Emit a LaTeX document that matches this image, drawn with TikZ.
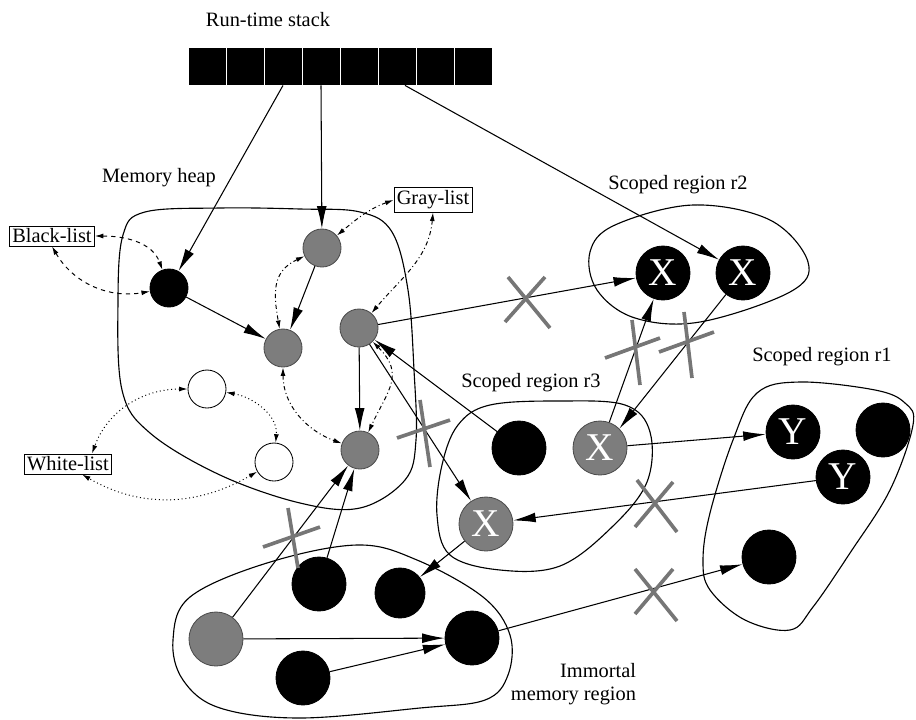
\documentclass[tikz,border=0pt]{standalone}
\usepackage{fontspec}
\setmainfont{Liberation Serif}
\usetikzlibrary{arrows.meta}
\definecolor{objgray}{RGB}{125,125,125}
\definecolor{cutgray}{RGB}{118,118,118}
\tikzstyle{every node}=[font=\fontsize{14.5}{16}\selectfont]
\tikzstyle{cell}=[draw=white,line width=0.6pt,fill=black,minimum width=0.95cm,minimum height=0.95cm,inner sep=0pt]
\tikzstyle{obj}=[circle,draw=black,line width=0.6pt,fill=black,inner sep=0pt,minimum size=0.95cm]
\tikzstyle{big}=[minimum size=1.35cm]
\tikzstyle{grayobj}=[fill=objgray,draw=black!70]
\tikzstyle{whiteobj}=[fill=white]
\tikzstyle{letter}=[text=white,font=\fontsize{28}{28}\selectfont]
\tikzstyle{listbox}=[draw=black,line width=0.6pt,inner sep=2pt]
\tikzstyle{region}=[draw=black,line width=0.8pt]
\tikzstyle{ref}=[line width=0.75pt,-{Latex[length=16pt,width=7pt]}]
\tikzstyle{listref}=[line width=0.7pt,{Latex[length=6pt,width=3.5pt]}-{Latex[length=6pt,width=3.5pt]}]
\tikzstyle{blackref}=[listref,dashed]
\tikzstyle{grayref}=[listref,dash dot]
\tikzstyle{whiteref}=[listref,dotted]
\tikzstyle{cut}=[draw=cutgray,line width=2.6pt]

\begin{document}
\begin{tikzpicture}[x=0.025cm,y=-0.025cm]
  \useasboundingbox (0,0) rectangle (916,719);

  \node (stacklabel) at (268,20) {Run-time stack};
  \foreach \i in {1,...,8}
    \node[cell] (s\i) at ({169+38*\i},66) {};

  \draw[region] plot[smooth cycle,tension=0.6] coordinates {(118,300) (123,235) (145,212)
    (220,208) (300,209) (360,212) (392,232) (408,290) (414,370) (416,440) (405,480)
    (360,508) (300,503) (220,475) (150,433) (122,390)};
  \draw[region] plot[smooth cycle,tension=0.6] coordinates {(590,252) (615,225) (693,205)
    (770,220) (808,262) (790,292) (700,322) (635,318) (597,290)};
  \draw[region] plot[smooth cycle,tension=0.6] coordinates {(458,425) (490,405) (560,401)
    (625,405) (650,432) (647,482) (612,527) (560,566) (500,570) (450,555) (437,515) (442,465)};
  \draw[region] plot[smooth cycle,tension=0.6] coordinates {(757,393) (800,382) (875,390)
    (905,403) (913,425) (890,490) (850,553) (813,607) (790,630) (745,620) (710,590)
    (703,560) (710,513) (733,440)};
  \draw[region] plot[smooth cycle,tension=0.6] coordinates {(190,597) (267,563) (357,545)
    (417,560) (483,597) (510,635) (508,675) (485,700) (420,708) (300,718) (220,708)
    (183,680) (173,640)};

  \node (heaplabel) at (159,178) {Memory heap};
  \node (r2label) at (678,185) {Scoped region r2};
  \node (r3label) at (531,383) {Scoped region r3};
  \node (r1label) at (822,357) {Scoped region r1};
  \node[align=right,anchor=east] (immlabel) at (641,684) {Immortal\\memory region};

  \node[listbox] (blacklist) at (52,236) {Black-list};
  \node[listbox] (graylist) at (433,200) {Gray-list};
  \node[listbox] (whitelist) at (68,464) {White-list};

  \node[obj] (b1) at (169,288) {};
  \node[obj,grayobj] (g1) at (322,248) {};
  \node[obj,grayobj] (g2) at (283,348) {};
  \node[obj,grayobj] (g3) at (359,328) {};
  \node[obj,grayobj] (g4) at (360,450) {};
  \node[obj,whiteobj] (w1) at (207,389) {};
  \node[obj,whiteobj] (w2) at (274,462) {};

  \node[obj,big,letter] (xa) at (663,273) {X};
  \node[obj,big,letter] (xb) at (743,273) {X};

  \node[obj,big] (r3a) at (519,448) {};
  \node[obj,big,grayobj,letter] (xc) at (600,448) {X};
  \node[obj,big,grayobj,letter] (xd) at (486,524) {X};

  \node[obj,big,letter] (ya) at (793,432) {Y};
  \node[obj,big] (r1a) at (883,430) {};
  \node[obj,big,letter] (yb) at (843,477) {Y};
  \node[obj,big] (r1b) at (769,557) {};

  \node[obj,big,grayobj] (ia) at (216,639) {};
  \node[obj,big] (ib) at (319,584) {};
  \node[obj,minimum size=1.25cm] (ic) at (400,593) {};
  \node[obj,big] (id) at (472,638) {};
  \node[obj,big] (ie) at (303,678) {};

  \draw[ref] (s3.south) -- (b1);
  \draw[ref] (s4.south) -- (g1);
  \draw[ref] ([xshift=0.2cm]s6.south) -- (xb);
  \draw[ref] (b1) -- (g2);
  \draw[ref] (g1) -- (g2);
  \draw[ref] (g3) -- (g4);
  \draw[ref] (g3) -- (xa);
  \draw[ref] (r3a) -- (g3);
  \draw[ref] (g3) -- (xd);
  \draw[ref] (xc) -- (xa);
  \draw[ref] (xb) -- (xc.north east);
  \draw[ref] (xc) -- (ya);
  \draw[ref] (yb) -- (xd);
  \draw[ref] (id) -- (r1b);
  \draw[ref] (xd) -- (ic);
  \draw[ref] (ia) -- (g4);
  \draw[ref] (ib) -- (g4);
  \draw[ref] (ia) -- (id);
  \draw[ref] (ie) -- (id);

  \draw[blackref] (blacklist.east) to[out=0,in=110] (b1);
  \draw[blackref] (blacklist.south) to[out=-60,in=190] (b1);
  \draw[grayref] (graylist.west) to[out=200,in=40] (g1);
  \draw[grayref] (graylist.south) to[out=-95,in=50] (g3);
  \draw[grayref] (g1) to[out=205,in=100,looseness=1.2] (g2);
  \draw[grayref] (g2) to[out=-90,in=160] (g4);
  \draw[grayref] (g3) to[out=-45,in=65,looseness=1.3] (g4);
  \draw[whiteref] (w1) to[out=180,in=70] ([xshift=0.6cm]whitelist.north);
  \draw[whiteref] (w2) to[out=210,in=-30] ([xshift=0.35cm]whitelist.south);
  \draw[whiteref] (w1) to[out=-10,in=85] (w2);

  \draw[cut] (505,322) -- (545,277) (508,277) -- (550,328);
  \draw[cut] (632,320) -- (640,385) (605,358) -- (660,338);
  \draw[cut] (684,312) -- (692,378) (659,352) -- (714,332);
  \draw[cut] (420,400) -- (430,467) (397,438) -- (450,420);
  \draw[cut] (288,508) -- (298,568) (263,547) -- (320,527);
  \draw[cut] (635,527) -- (673,482) (637,480) -- (677,532);
  \draw[cut] (635,614) -- (673,569) (635,569) -- (677,621);
\end{tikzpicture}
\end{document}
